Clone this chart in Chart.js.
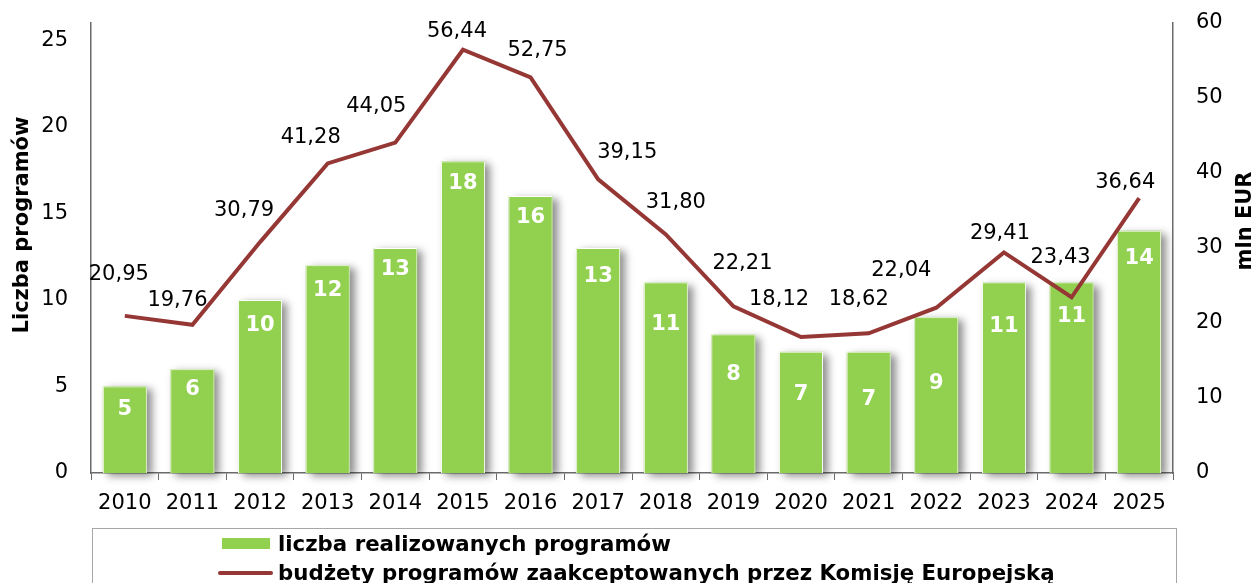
<!DOCTYPE html>
<html>
<head>
<meta charset="utf-8">
<script src="https://cdn.jsdelivr.net/npm/chart.js@4"></script>
<style>
  body { margin: 0; background: #fff; overflow: hidden; font-family: "DejaVu Sans", Verdana, sans-serif; }
  #wrap { position: relative; width: 1260px; height: 583px; }
  .lg { position: absolute; }
  .lgText { font-weight: bold; font-size: 21.3px; line-height: 24px; color: #000; white-space: nowrap; }
</style>
</head>
<body>
<div id="wrap">
  <canvas id="chart"></canvas>
  <div class="lg" style="left:92px;top:528px;width:1083px;height:70px;border:1px solid #a6a6a6;"></div>
  <div class="lg" style="left:222px;top:538px;width:48px;height:11px;background:#92d050;"></div>
  <div class="lg lgText" id="lg1" style="left:278px;top:532px;"></div>
  <div class="lg" style="left:218px;top:571px;width:55px;height:4px;border-radius:2px;background:#953735;"></div>
  <div class="lg lgText" id="lg2" style="left:278px;top:561px;"></div>
</div>
<script>
// dane
const years = ['2010', '2011', '2012', '2013', '2014', '2015', '2016', '2017',
               '2018', '2019', '2020', '2021', '2022', '2023', '2024', '2025'];
const programCount = [5, 6, 10, 12, 13, 18, 16, 13, 11, 8, 7, 7, 9, 11, 11, 14];
const budgets = [20.95, 19.76, 30.79, 41.28, 44.05, 56.44, 52.75, 39.15,
                 31.80, 22.21, 18.12, 18.62, 22.04, 29.41, 23.43, 36.64];
const leftTicks = [0, 5, 10, 15, 20, 25];
const rightTicks = [0, 10, 20, 30, 40, 50, 60];

const barName = 'liczba realizowanych programów';
const lineName = 'budżety programów zaakceptowanych przez Komisję Europejską';
const leftTitle = 'Liczba programów';
const rightTitle = 'mln EUR';

// przesunięcia etykiet (jak w oryginale, ustawiane ręcznie)
const lineLabelShift = [[-6, -41], [-15, -24], [-16, -32], [-17, -26], [-19, -36], [-6, -18],
                        [7, -27], [29, -27], [10, -32], [9, -43], [-22, -38], [-10, -34],
                        [-35, -37], [-4, -19], [-11, -40], [-14, -16]];
const barLabelDrop = [23, 20, 26, 25, 22, 22, 21, 29, 42, 40, 43, 48, 66, 44, 34, 28];

document.getElementById('lg1').textContent = barName;
document.getElementById('lg2').textContent = lineName;

const FONT = '"DejaVu Sans", Verdana, sans-serif';
const AXIS = '#6b6b6b';
const fmt = v => v.toFixed(2).replace('.', ',');

// cień pod słupkami
const shadowPlugin = {
    id: 'barShadow',
    beforeDatasetsDraw(chart) {
        const ctx = chart.ctx;
        ctx.save();
        ctx.shadowColor = 'rgba(0,0,0,0.45)';
        ctx.shadowBlur = 8;
        ctx.shadowOffsetX = 5;
        ctx.shadowOffsetY = 3;
        ctx.fillStyle = '#92d050';
        chart.getDatasetMeta(0).data.forEach(bar => {
            const p = bar.getProps(['x', 'y', 'base', 'width'], true);
            ctx.fillRect(p.x - p.width / 2, p.y, p.width, p.base - p.y);
        });
        ctx.restore();
    }
};

const labelsPlugin = {
    id: 'valueLabels',
    afterDatasetsDraw(chart) {
        const ctx = chart.ctx;
        ctx.save();
        ctx.textAlign = 'center';
        ctx.textBaseline = 'middle';

        // bar labels
        ctx.font = 'bold 21px ' + FONT;
        ctx.fillStyle = '#fff';
        chart.getDatasetMeta(0).data.forEach((bar, i) => {
            ctx.fillText(String(programCount[i]), bar.x, bar.y + barLabelDrop[i]);
        });

        // line labels
        ctx.font = '21px ' + FONT;
        ctx.fillStyle = '#000';
        chart.getDatasetMeta(1).data.forEach((pt, i) => {
            const s = lineLabelShift[i];
            ctx.fillText(fmt(budgets[i]), pt.x + s[0], pt.y + s[1]);
        });
        ctx.restore();
    },
    afterDraw(chart) {
        const ctx = chart.ctx;
        ctx.save();
        ctx.font = 'bold 21px ' + FONT;
        ctx.fillStyle = '#000';
        ctx.textAlign = 'center';
        ctx.textBaseline = 'middle';
        ctx.translate(23, 225);
        ctx.rotate(-Math.PI / 2);
        ctx.fillText(leftTitle, 0, 0);
        ctx.restore();

        ctx.save();
        ctx.font = 'bold 21px ' + FONT;
        ctx.fillStyle = '#000';
        ctx.textAlign = 'center';
        ctx.textBaseline = 'middle';
        ctx.translate(1246, 221);
        ctx.rotate(-Math.PI / 2);
        ctx.fillText(rightTitle, 0, 0);
        ctx.restore();
    }
};

const fitY = w => s => { s.width = w; s.paddingTop = 0; s.paddingBottom = 0; };

new Chart(document.getElementById('chart').getContext('2d'), {
    type: 'bar',
    data: {
        labels: years,
        datasets: [{
            label: barName,
            data: programCount,
            backgroundColor: '#92d050',
            borderColor: '#ffffff',
            borderWidth: 1,
            barPercentage: 0.65,
            categoryPercentage: 1,
            yAxisID: 'y',
            order: 1
        }, {
            type: 'line',
            label: lineName,
            data: budgets,
            borderColor: '#953735',
            borderWidth: 4,
            pointRadius: 0,
            tension: 0,
            fill: false,
            yAxisID: 'y1',
            order: 0
        }]
    },
    options: {
        responsive: true,
        maintainAspectRatio: false,
        animation: false,
        layout: { padding: { top: 23, left: 0, right: 0, bottom: 70 } },
        plugins: {
            legend: { display: false },
            tooltip: { enabled: false }
        },
        scales: {
            x: {
                grid: { display: true, drawOnChartArea: false, drawTicks: true, tickLength: 7, color: AXIS, offset: true },
                border: { color: AXIS, width: 1.5 },
                ticks: { color: '#000', font: { family: FONT, size: 21 }, padding: 11, maxRotation: 0, autoSkip: false },
                afterFit: s => { s.height = 40; }
            },
            y: {
                position: 'left',
                min: 0,
                max: 26,
                grid: { display: false, drawTicks: false },
                border: { color: AXIS, width: 1.5 },
                ticks: { color: '#000', font: { family: FONT, size: 21 }, padding: 23 },
                afterBuildTicks: s => { s.ticks = leftTicks.map(v => ({ value: v })); },
                afterFit: fitY(91)
            },
            y1: {
                position: 'right',
                min: 0,
                max: 60,
                grid: { display: false, drawTicks: false },
                border: { color: AXIS, width: 1.5 },
                ticks: { color: '#000', font: { family: FONT, size: 21 }, padding: 23 },
                afterBuildTicks: s => { s.ticks = rightTicks.map(v => ({ value: v })); },
                afterFit: fitY(87)
            }
        }
    },
    plugins: [shadowPlugin, labelsPlugin]
});
</script>
</body>
</html>
